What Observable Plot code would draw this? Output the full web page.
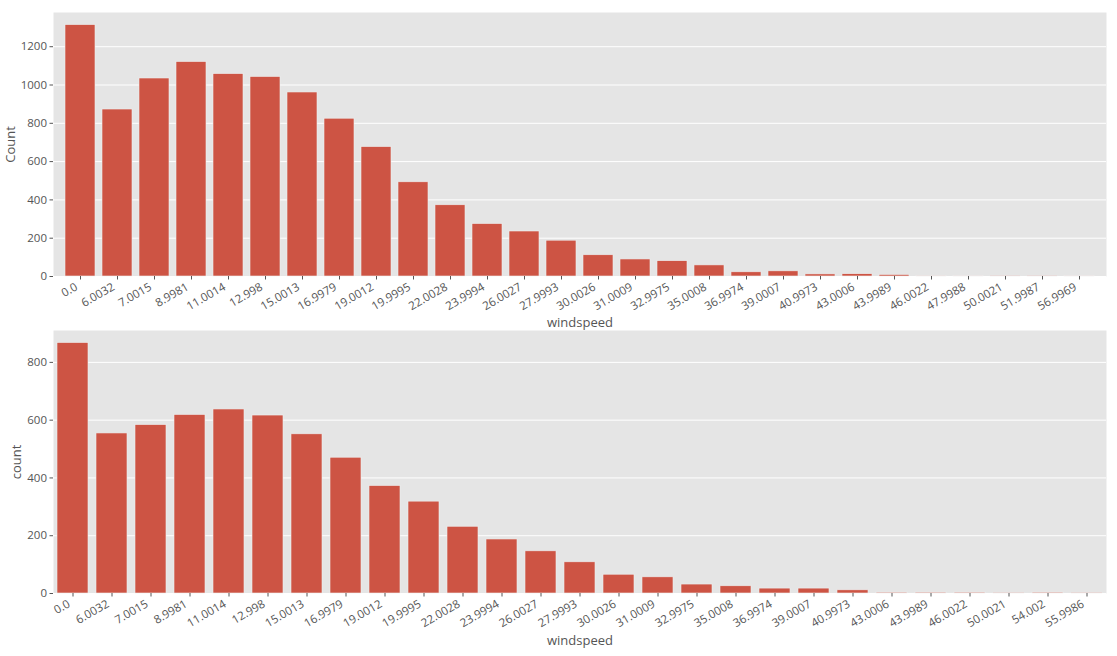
<!DOCTYPE html>
<html>
<head>
<meta charset="utf-8">
<script src="https://cdn.jsdelivr.net/npm/d3@7"></script>
<script src="https://cdn.jsdelivr.net/npm/@observablehq/plot@0.6"></script>
<style>
  html, body { margin: 0; padding: 0; background: #ffffff; }
  #chart svg { display: block; }
  #chart [aria-label="x-axis label"] text,
  #chart [aria-label="y-axis label"] text { font-size: 13px; fill: #555555; }
</style>
</head>
<body>
<div id="chart"></div>
<script>
// Top panel: train windspeed counts
const windTrain = ["0.0","6.0032","7.0015","8.9981","11.0014","12.998","15.0013","16.9979","19.0012","19.9995","22.0028","23.9994","26.0027","27.9993","30.0026","31.0009","32.9975","35.0008","36.9974","39.0007","40.9973","43.0006","43.9989","46.0022","47.9988","50.0021","51.9987","56.9969"];
const countTrain = [1313,872,1034,1120,1057,1042,961,824,676,492,372,274,235,187,111,89,80,58,22,27,11,12,8,3,2,1,1,2];
const yTicksTrain = [0,200,400,600,800,1000,1200];

// Bottom panel: test windspeed counts
const windTest = ["0.0","6.0032","7.0015","8.9981","11.0014","12.998","15.0013","16.9979","19.0012","19.9995","22.0028","23.9994","26.0027","27.9993","30.0026","31.0009","32.9975","35.0008","36.9974","39.0007","40.9973","43.0006","43.9989","46.0022","50.0021","54.002","55.9986"];
const countTest = [867,554,583,618,637,616,551,470,372,318,231,187,146,108,65,56,31,25,17,17,11,3,3,3,1,3,1];
const yTicksTest = [0,200,400,600,800];

const BAR = "#CD5444";
const BG = "#E5E5E5";

function panel(cats, counts, yTicks, yLabel, opts) {
  const rows = cats.map((c, i) => ({wind: c, count: counts[i]}));
  return Plot.plot({
    width: 1117,
    height: opts.height,
    marginLeft: 53,
    marginRight: 11,
    marginTop: opts.marginTop,
    marginBottom: opts.marginBottom,
    style: {fontFamily: "'Open Sans', sans-serif", fontSize: "11.5px", color: "#555555", background: "#ffffff", overflow: "visible"},
    x: {domain: cats, paddingInner: 0.2, paddingOuter: 0.1},
    y: {domain: [0, d3.max(counts) * 1.05]},
    marks: [
      Plot.frame({fill: BG, stroke: null}),
      Plot.gridY(yTicks, {stroke: "#ffffff", strokeOpacity: 1, strokeWidth: 1}),
      Plot.barY(rows, {x: "wind", y: "count", fill: BAR, stroke: "#EEEEEE", strokeWidth: 0.6}),
      // tick marks only
      Plot.axisX({tickSize: 3.5, stroke: "#555555", tickFormat: () => "", label: null}),
      // rotated tick labels + axis label
      Plot.axisX({tickSize: 0, tickRotate: -30, tickPadding: 7.5, dx: -4, dy: 2, label: "windspeed", labelAnchor: "center", labelOffset: opts.xLabelOffset, labelArrow: false}),
      Plot.axisY({ticks: yTicks, tickFormat: d => String(d), tickSize: 3.5, tickPadding: 3, stroke: "#555555", label: yLabel, labelAnchor: "center", labelOffset: opts.yLabelOffset, labelArrow: false})
    ]
  });
}

const chart = document.getElementById("chart");
chart.append(panel(windTrain, countTrain, yTicksTrain, "Count", {height: 328, marginTop: 12, marginBottom: 52, xLabelOffset: 50, yLabelOffset: 48}));
chart.append(panel(windTest, countTest, yTicksTest, "count", {height: 328, marginTop: 2, marginBottom: 63, xLabelOffset: 51, yLabelOffset: 42}));
</script>
</body>
</html>
